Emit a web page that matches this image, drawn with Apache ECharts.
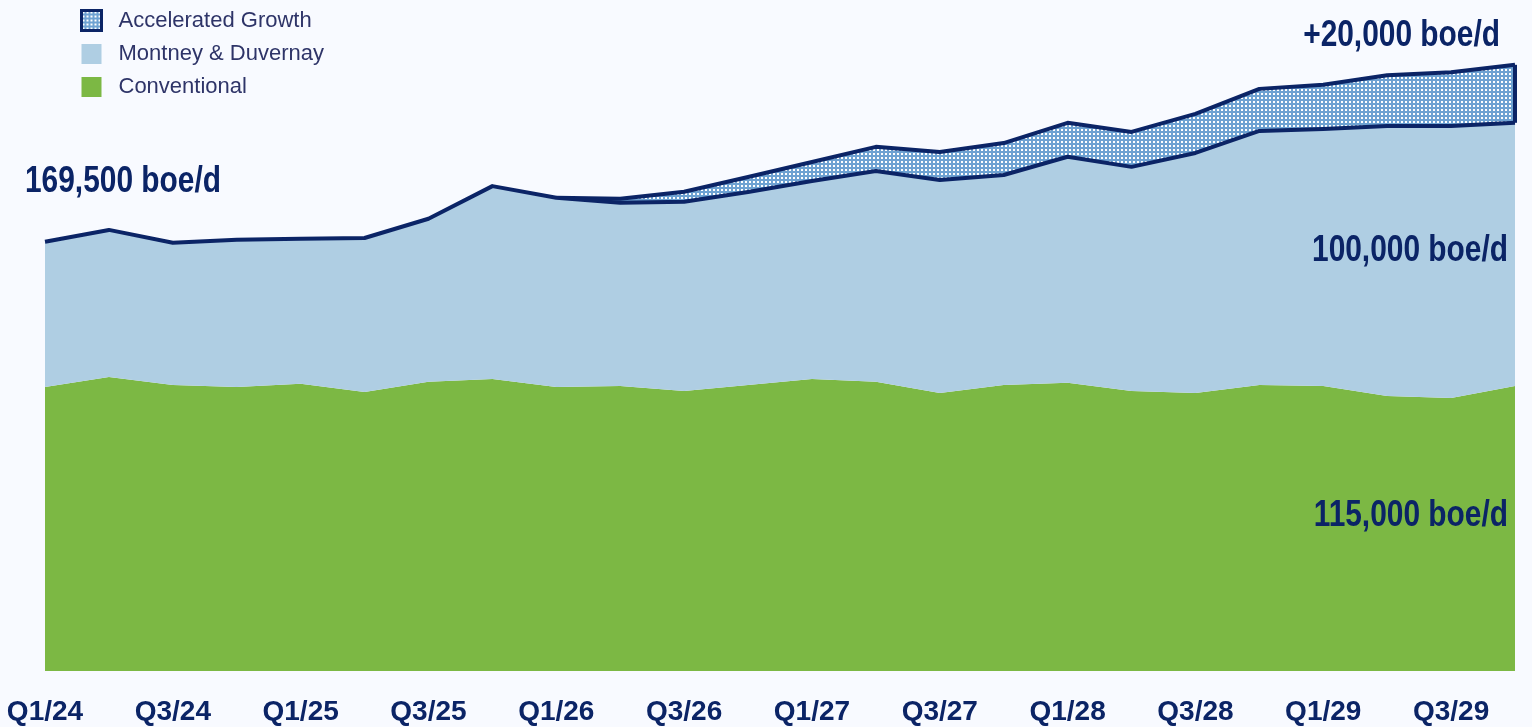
<!DOCTYPE html>
<html style="height: 100%">
<head>
    <meta charset="utf-8">
    <style type="text/css">
        body{background:#f8faff;}
        .box{width: 1532px;height:727px;}
    </style>
</head>
<body style="height: 100%; margin: 0">
<div class="box" id="container"></div>
<script src="https://cdn.jsdelivr.net/npm/echarts@6/dist/echarts.min.js"></script>

<script type="text/javascript">
    // quarters Q1/24 .. Q4/29
    var quarters = ['Q1/24','Q2/24','Q3/24','Q4/24','Q1/25','Q2/25','Q3/25','Q4/25',
        'Q1/26','Q2/26','Q3/26','Q4/26','Q1/27','Q2/27','Q3/27','Q4/27',
        'Q1/28','Q2/28','Q3/28','Q4/28','Q1/29','Q2/29','Q3/29','Q4/29'];

    // boe/d
    var conventional = [112200,116100,113000,112200,113400,110200,114200,115300,
        112200,112600,110600,113000,115300,114200,109800,113000,
        113800,110600,109800,113000,112600,108600,107800,112600];
    var montney = [57300,58100,56100,58100,57300,60800,64400,76200,
        74700,72300,74700,76200,78200,83300,84100,82900,
        89300,88500,94800,100300,101500,106600,107400,103900];
    var accelerated = ['-','-','-','-','-','-','-','-',
        0,1600,4000,5900,7500,9500,11100,12600,
        13400,13800,15400,16600,17400,20100,21300,22900];

    var navy = '#0b2466';
    var font = "'Liberation Sans', Arial, sans-serif";

    // dotted fill for the accelerated band
    var tile = document.createElement('canvas');
    tile.width = 4;
    tile.height = 4;
    var ctx = tile.getContext('2d');
    ctx.fillStyle = '#6ea2d2';
    ctx.fillRect(0, 0, 4, 4);
    ctx.fillStyle = '#ffffff';
    ctx.fillRect(1, 1, 2, 2);
    var dots = {image: tile, repeat: 'repeat'};

    var last = quarters.length - 1;
    var baseEnd = conventional[last] + montney[last];
    var topEnd = baseEnd + accelerated[last];

    // bold condensed annotation, drawn above the areas
    function note(txt, x, y, align) {
        return {
            type: 'text', x: x, y: y, scaleX: 0.83, z: 100,
            style: {text: txt, fill: navy, font: 'bold 36px ' + font, align: align, verticalAlign: 'middle'}
        };
    }

    var dom = document.getElementById("container");
    var myChart = echarts.init(dom);
    var option = {
        backgroundColor: '#f8faff',
        animation: false,
        legend: {
            orient: 'vertical',
            left: 75,
            top: 4,
            itemWidth: 20,
            itemHeight: 20,
            itemGap: 11,
            textStyle: {
                color: '#2e3468',
                fontSize: 22,
                fontFamily: font,
                padding: [0, 0, 0, 12]
            },
            data: [
                {name: 'Accelerated Growth', icon: 'rect', itemStyle: {color: dots, borderColor: navy, borderWidth: 3}},
                {name: 'Montney & Duvernay', icon: 'rect', itemStyle: {color: '#afcee3', borderWidth: 0}},
                {name: 'Conventional', icon: 'rect', itemStyle: {color: '#7cb844', borderWidth: 0}}
            ]
        },
        grid: {
            left: 45,
            right: 17,
            top: 0,
            bottom: 56
        },
        xAxis: {
            type: 'category',
            boundaryGap: false,
            data: quarters,
            axisLine: {show: false},
            axisTick: {show: false},
            axisLabel: {
                interval: 1,
                color: navy,
                fontWeight: 'bold',
                fontSize: 28,
                fontFamily: font,
                margin: 27
            }
        },
        yAxis: {
            type: 'value',
            min: 0,
            max: 265000,
            show: false,
            splitLine: {show: false}
        },
        series: [
            {
                name: 'Conventional',
                type: 'line',
                stack: 'total',
                symbol: 'none',
                lineStyle: {width: 0},
                areaStyle: {color: '#7cb844', opacity: 1},
                itemStyle: {color: '#7cb844'},
                data: conventional
            },
            {
                name: 'Montney & Duvernay',
                type: 'line',
                stack: 'total',
                symbol: 'none',
                lineStyle: {width: 4, color: navy, join: 'round'},
                areaStyle: {color: '#afcee3', opacity: 1},
                itemStyle: {color: '#afcee3'},
                z: 3,
                data: montney
            },
            {
                name: 'Accelerated Growth',
                type: 'line',
                stack: 'total',
                symbol: 'none',
                lineStyle: {width: 4, color: navy, join: 'round'},
                areaStyle: {color: dots, opacity: 1},
                itemStyle: {color: '#6ea2d2'},
                z: 2,
                markLine: {
                    silent: true,
                    symbol: 'none',
                    label: {show: false},
                    lineStyle: {color: navy, width: 4, type: 'solid'},
                    data: [[
                        {coord: [quarters[last], baseEnd]},
                        {coord: [quarters[last], topEnd]}
                    ]]
                },
                data: accelerated
            }
        ],
        graphic: [
            note('169,500 boe/d', 25, 182, 'left'),
            note('+20,000 boe/d', 1500, 36, 'right'),
            note('100,000 boe/d', 1508, 251, 'right'),
            note('115,000 boe/d', 1508, 516, 'right')
        ]
    };
    myChart.setOption(option, true);
</script>
</body>
</html>
